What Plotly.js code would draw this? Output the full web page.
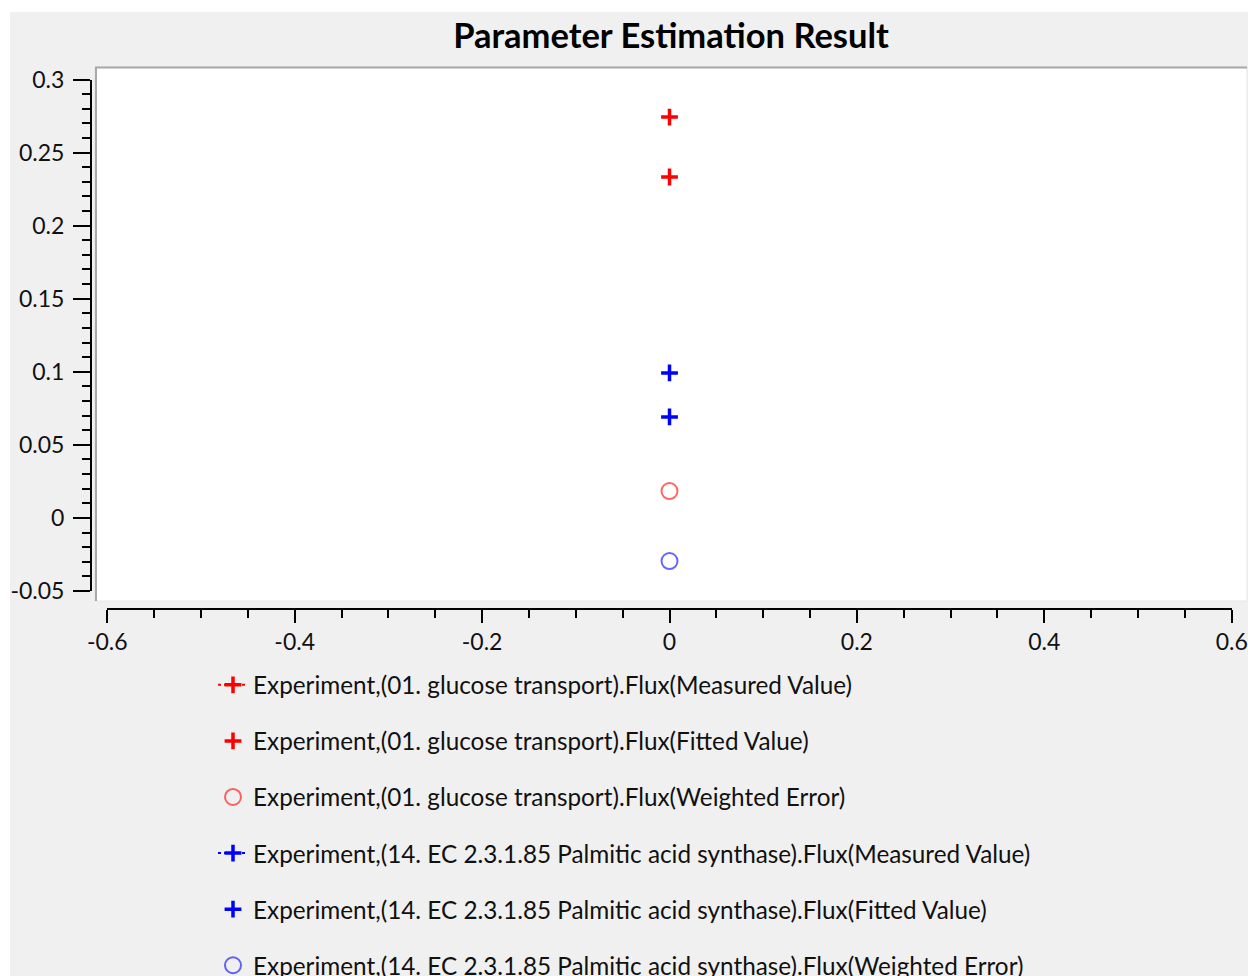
<!DOCTYPE html>
<html>
<head>
<meta charset="utf-8">
<script src="https://cdn.plot.ly/plotly-3.0.1.min.js"></script>
<style>html,body{margin:0;padding:0;background:#fff;}#chart{width:1248px;height:976px;}</style>
</head>
<body>
<div id="chart"></div>
<script>
// ---- data ----
const seriesNames = [
  "Experiment,(01. glucose transport).Flux(Measured Value)",
  "Experiment,(01. glucose transport).Flux(Fitted Value)",
  "Experiment,(01. glucose transport).Flux(Weighted Error)",
  "Experiment,(14. EC 2.3.1.85 Palmitic acid synthase).Flux(Measured Value)",
  "Experiment,(14. EC 2.3.1.85 Palmitic acid synthase).Flux(Fitted Value)",
  "Experiment,(14. EC 2.3.1.85 Palmitic acid synthase).Flux(Weighted Error)"
];
const xValues = [0];
const glucoseMeasured = [0.2743];
const glucoseFitted = [0.2333];
const glucoseError = [0.0184];
const palmiticMeasured = [0.0691];
const palmiticFitted = [0.0992];
const palmiticError = [-0.0295];

const xTickVals = [-0.6, -0.4, -0.2, 0, 0.2, 0.4, 0.6];
const xTickText = ["-0.6", "-0.4", "-0.2", "0", "0.2", "0.4", "0.6"];
const yTickVals = [-0.05, 0, 0.05, 0.1, 0.15, 0.2, 0.25, 0.3];
const yTickText = ["-0.05", "0", "0.05", "0.1", "0.15", "0.2", "0.25", "0.3"];

// ---- geometry helpers (pixels -> paper) ----
const W = 1248, H = 976;
const px = v => v / W;
const py = v => 1 - v / H;

const RED = "#ff0000", BLUE = "#0000ff";
const RED_L = "rgba(255,0,0,0.6)", BLUE_L = "rgba(0,0,255,0.6)";

function crossTrace(name, y, color, withLine, grp) {
  return {
    type: "scatter", x: xValues, y: y, name: name, legendgroup: grp,
    mode: withLine ? "lines+markers" : "markers",
    line: {color: color, width: 2, dash: "dot"},
    marker: {symbol: "cross-thin-open", size: 12, color: color, line: {color: color, width: 3.5}},
    cliponaxis: false
  };
}
function circleTrace(name, y, color, grp) {
  return {
    type: "scatter", x: xValues, y: y, name: name, legendgroup: grp, mode: "markers",
    marker: {symbol: "circle-open", size: 16, color: color, line: {color: color, width: 2}},
    cliponaxis: false
  };
}

const traces = [
  crossTrace(seriesNames[0], glucoseMeasured, RED, true, "g1"),
  crossTrace(seriesNames[1], glucoseFitted, RED, false, "g2"),
  circleTrace(seriesNames[2], glucoseError, RED_L, "g3"),
  crossTrace(seriesNames[3], palmiticMeasured, BLUE, true, "g4"),
  crossTrace(seriesNames[4], palmiticFitted, BLUE, false, "g5"),
  circleTrace(seriesNames[5], palmiticError, BLUE_L, "g6")
];

const FONT = "Lato, 'Open Sans', sans-serif";
const tickFont = {family: FONT, size: 23, color: "#111"};

const layout = {
  width: W, height: H,
  margin: {l: 0, r: 0, t: 0, b: 0, pad: 0, autoexpand: false},
  paper_bgcolor: "#ffffff",
  plot_bgcolor: "rgba(0,0,0,0)",
  showlegend: true,
  title: {
    text: "Parameter Estimation Result",
    font: {family: FONT, size: 34.5, weight: 700, color: "#000"},
    x: px(671), xref: "paper", xanchor: "center",
    y: py(36), yref: "container", yanchor: "middle"
  },
  xaxis: {
    domain: [px(107.3), px(1231.7)],
    range: [-0.6, 0.6],
    anchor: "free", position: py(608.5),
    showgrid: false, zeroline: false,
    showline: true, linecolor: "#000", linewidth: 2,
    ticks: "outside", ticklen: 13, tickwidth: 2, tickcolor: "#000",
    tickmode: "array", tickvals: xTickVals, ticktext: xTickText,
    minor: {dtick: 0.05, tick0: 0, ticks: "outside", ticklen: 8, tickwidth: 2, tickcolor: "#000", showgrid: false},
    tickfont: tickFont, fixedrange: true
  },
  yaxis: {
    domain: [py(591), py(79.5)],
    range: [-0.05, 0.3],
    anchor: "free", position: px(91),
    showgrid: false, zeroline: false,
    showline: true, linecolor: "#000", linewidth: 2,
    ticks: "outside", ticklen: 17, tickwidth: 2, tickcolor: "#000",
    ticklabelstandoff: 4,
    tickmode: "array", tickvals: yTickVals, ticktext: yTickText,
    minor: {dtick: 0.01, tick0: 0, ticks: "outside", ticklen: 8, tickwidth: 2, tickcolor: "#000", showgrid: false},
    tickfont: tickFont, fixedrange: true
  },
  legend: {
    x: px(213), xanchor: "left", xref: "paper",
    y: py(662.5), yanchor: "top", yref: "paper",
    bgcolor: "rgba(0,0,0,0)", borderwidth: 0,
    font: {family: FONT, size: 24.3, color: "#111"},
    traceorder: "grouped", tracegroupgap: 21.5,
    itemsizing: "trace"
  },
  shapes: [
    {type: "rect", xref: "paper", yref: "paper", layer: "below",
     x0: px(10), x1: px(1248), y0: py(976), y1: py(12),
     fillcolor: "#f0f0f0", line: {width: 0}},
    {type: "rect", xref: "paper", yref: "paper", layer: "below",
     x0: px(95), x1: px(1247), y0: py(601), y1: py(67),
     fillcolor: "#ffffff", line: {width: 1, color: "#e6e6e6"}},
    {type: "line", xref: "paper", yref: "paper", layer: "below",
     x0: px(95), x1: px(1247), y0: py(67.5), y1: py(67.5),
     line: {width: 2, color: "#a8a8a8"}},
    {type: "line", xref: "paper", yref: "paper", layer: "below",
     x0: px(96), x1: px(96), y0: py(601), y1: py(67),
     line: {width: 2, color: "#a8a8a8"}}
  ]
};

Plotly.newPlot("chart", traces, layout, {displayModeBar: false, staticPlot: true});
</script>
</body>
</html>
